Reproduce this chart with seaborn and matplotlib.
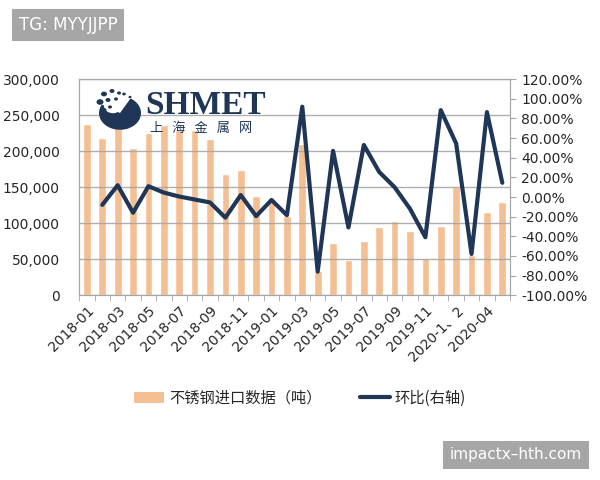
import numpy as np
import pandas as pd
import seaborn as sns
import matplotlib
matplotlib.use("Agg")
from matplotlib import pyplot as plt
from matplotlib.patches import Patch, Wedge, Circle
from matplotlib.lines import Line2D
from matplotlib.ticker import FuncFormatter, FixedLocator

months = [
    "2018-01", "2018-02", "2018-03", "2018-04", "2018-05", "2018-06", "2018-07",
    "2018-08", "2018-09", "2018-10", "2018-11", "2018-12",
    "2019-01", "2019-02", "2019-03", "2019-04", "2019-05", "2019-06", "2019-07",
    "2019-08", "2019-09", "2019-10", "2019-11", "2019-12",
    "2020-1、2", "2020-03", "2020-04", "2020-05",
]
imports_t = [
    238000, 218000, 245000, 205000, 225000, 236000, 230000,
    229000, 217000, 169000, 174000, 138000,
    132000, 110000, 210000, 33000, 72000, 49000, 75000,
    95000, 103000, 89000, 52000, 96000,
    150000, 56000, 115000, 130000,
]
mom_pct = [
    np.nan, -8.0, 12.0, -16.0, 11.0, 4.5, 0.5,
    -2.5, -5.5, -21.0, 2.0, -19.5,
    -3.0, -18.5, 92.0, -76.0, 47.0, -31.0, 53.0,
    25.5, 10.0, -12.0, -41.0, 88.5,
    54.5, -58.0, 86.5, 14.5,
]

BAR = "#F4BF93"
NAVY = "#1F3656"
GRID = "#A6A6A6"

sns.set_style("white")
plt.rcParams["font.family"] = ["DejaVu Sans", "Noto Sans CJK SC"]

df = pd.DataFrame({"month": months, "imports": imports_t, "mom": mom_pct})
df["pos"] = np.arange(len(df))

fig = plt.figure(figsize=(6, 4.8), dpi=100)
ax = fig.add_axes([0.132, 0.385, 0.718, 0.45])

sns.barplot(data=df, x="month", y="imports", color=BAR, width=0.5,
            saturation=1, ax=ax, zorder=1)
ax.set_ylim(0, 300000)
ax.set_yticks(np.arange(0, 300001, 50000))
ax.yaxis.set_major_formatter(FuncFormatter(lambda v, p: f"{int(v):,}"))
ax.set_axisbelow(False)
ax.grid(axis="y", color=GRID, linewidth=1, alpha=0.9)
ax.set_xlabel("")
ax.set_ylabel("")

n = len(months)
ax.set_xlim(-0.5, n - 0.5)
ax.xaxis.set_major_locator(FixedLocator(list(range(0, n, 2))))
ax.set_xticklabels(months[::2], rotation=45, ha="right", rotation_mode="anchor",
                   fontsize=10, family=["DejaVu Sans", "Noto Sans CJK SC"])
ax.xaxis.set_minor_locator(FixedLocator(list(np.arange(-0.5, n, 1.0))))
ax.tick_params(axis="x", which="major", length=0, pad=6)
ax.tick_params(axis="x", which="minor", length=4, color=GRID, bottom=True)
ax.tick_params(axis="y", labelsize=10, length=0, pad=14)

for s in ax.spines.values():
    s.set_color(GRID)

ax2 = ax.twinx()
sns.lineplot(data=df.dropna(), x="pos", y="mom", color=NAVY, linewidth=3,
             ax=ax2, zorder=3)
ax2.set_ylim(-100, 120)
ax2.set_yticks(np.arange(-100, 121, 20))
ax2.yaxis.set_major_formatter(FuncFormatter(lambda v, p: f"{v:.2f}%"))
ax2.tick_params(axis="y", labelsize=10, length=4, color=GRID, pad=4)
ax2.set_ylabel("")
ax2.set_xlabel("")
ax2.set_xlim(-0.5, n - 0.5)
for s in ax2.spines.values():
    s.set_color(GRID)

# SHMET logo
fig.patches.append(Wedge((120 / 600, 1 - 113 / 480), 0.035, 150, 60,
                         transform=fig.transFigure, facecolor=NAVY,
                         edgecolor="none", zorder=5))
fig.patches.append(Circle((113 / 600, 1 - 106 / 480), 9 / 600,
                          transform=fig.transFigure, facecolor="white",
                          edgecolor="none", zorder=6))
for dx, dy, r in [(104, 94, 3), (112, 91, 2.5), (119, 93, 2), (100, 102, 3.5),
                  (108, 100, 2.5), (116, 99, 2), (124, 94, 1.8), (130, 97, 1.5),
                  (104, 110, 2.5), (110, 107, 2)]:
    fig.patches.append(Circle((dx / 600, 1 - dy / 480), r / 600,
                              transform=fig.transFigure, facecolor=NAVY,
                              edgecolor="none", zorder=7))
fig.text(145 / 600, 1 - 114 / 480, "SHMET", fontsize=24, fontweight="bold",
         family="Liberation Serif", color=NAVY, va="baseline", ha="left")
fig.text(150 / 600, 1 - 128 / 480, "上   海   金   属   网", fontsize=9.5,
         family=["Noto Sans CJK SC"], color=NAVY, va="center", ha="left")

handles = [Patch(facecolor=BAR, edgecolor="none"),
           Line2D([0], [0], color=NAVY, linewidth=3)]
fig.legend(handles, ["不锈钢进口数据（吨）", "环比(右轴)"], loc="center",
           bbox_to_anchor=(0.5, 1 - 398 / 480), ncol=2, frameon=False,
           prop={"family": ["Noto Sans CJK SC"], "size": 11},
           handlelength=2.0, handleheight=0.7, columnspacing=2.5, handletextpad=0.3)

# watermarks
fig.text(19 / 600, 1 - 25 / 480, "TG: MYYJJPP", fontsize=12, color="white",
         va="center", ha="left",
         bbox=dict(boxstyle="square,pad=0.4", facecolor="#A6A6A6", edgecolor="none"))
fig.text(450 / 600, 1 - 455 / 480, "impactx\u2013hth.com", fontsize=11, color="white",
         va="center", ha="left",
         bbox=dict(boxstyle="square,pad=0.45", facecolor="#A6A6A6", edgecolor="none"))

fig.savefig("out.png", dpi=100, facecolor="white")
